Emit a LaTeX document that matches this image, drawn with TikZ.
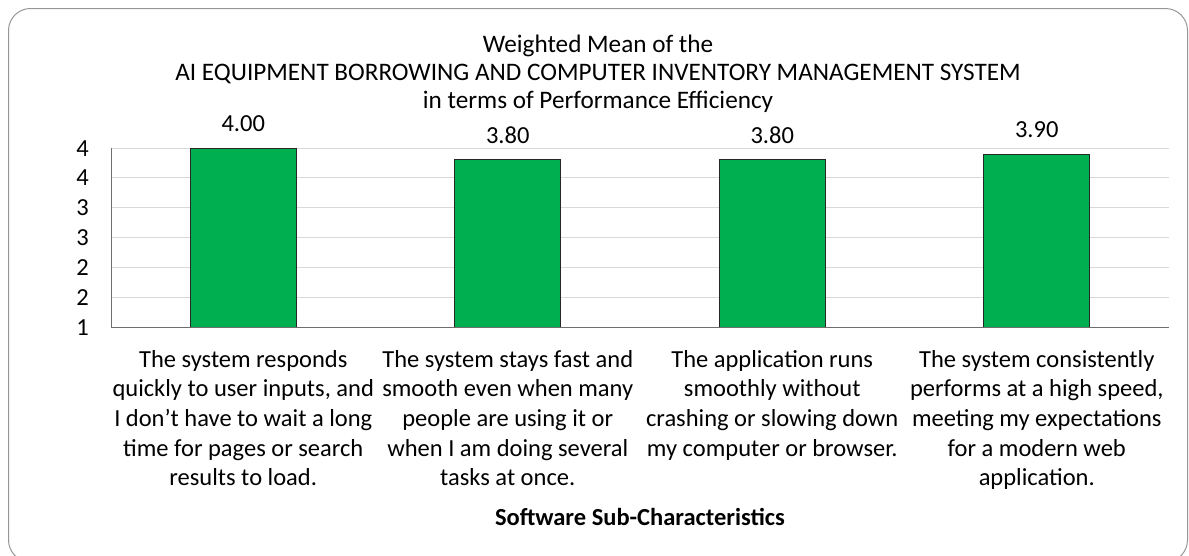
\documentclass[tikz,border=0pt]{standalone}
\usepackage{fontspec}
\setmainfont{Carlito}
\definecolor{barg}{RGB}{0,176,80}
\definecolor{gridc}{RGB}{217,217,217}
\definecolor{axisc}{RGB}{110,110,110}
\definecolor{framec}{RGB}{150,150,150}
\begin{document}
\begin{tikzpicture}[x=1pt,y=-1pt,
  txt/.style={inner sep=0pt,font=\fontsize{24.5}{29.6}\selectfont},
  barbox/.style={draw=black!85,line width=1pt,fill=barg},
  gridline/.style={draw=gridc,line width=1pt},
  axisline/.style={draw=axisc,line width=1pt},
  cat/.style={txt,align=center,anchor=north},
  val/.style={txt,anchor=base},
  ticklab/.style={txt,anchor=base east}]
\useasboundingbox (0,0) rectangle (1189,555);
\begin{scope}
\clip (0,0) rectangle (1189,555);
\draw[draw=framec,line width=1pt,rounded corners=22pt] (8.5,8.5) rectangle (1187.5,562);
\end{scope}
% title
\node[txt,align=center,anchor=north,font=\fontsize{25.2}{28.3}\selectfont] (title) at (598,31.5)
  {\rule{0pt}{20.3pt}Weighted Mean of the\\AI EQUIPMENT BORROWING AND COMPUTER INVENTORY MANAGEMENT SYSTEM\\in terms of Performance Efficiency};
% gridlines
\foreach \k in {0,...,5}
  \draw[gridline] (111,{148+\k*29.833}) -- (1169,{148+\k*29.833});
% bars
\draw[barbox] (190.25,327) rectangle (296.25,148);
\draw[barbox] (454.75,327) rectangle (560.75,159.9);
\draw[barbox] (719.25,327) rectangle (825.25,159.9);
\draw[barbox] (983.75,327) rectangle (1089.75,154.0);
% axes
\draw[axisline] (111,148) -- (111,327) -- (1169,327);
% tick labels
\node[ticklab] (t1) at (89,156) {4};
\node[ticklab] (t2) at (89,185.8) {4};
\node[ticklab] (t3) at (89,215.7) {3};
\node[ticklab] (t4) at (89,245.5) {3};
\node[ticklab] (t5) at (89,275.3) {2};
\node[ticklab] (t6) at (89,305.2) {2};
\node[ticklab] (t7) at (89,335) {1};
% value labels
\node[val] (v1) at (243.25,131.5) {4.00};
\node[val] (v2) at (507.75,143.4) {3.80};
\node[val] (v3) at (772.25,143.4) {3.80};
\node[val] (v4) at (1036.75,137.5) {3.90};
% category labels
\node[cat] (c1) at (243.25,346) {\rule{0pt}{21pt}The system responds\\quickly to user inputs, and\\I don’t have to wait a long\\time for pages or search\\results to load.};
\node[cat] (c2) at (507.75,346) {\rule{0pt}{21pt}The system stays fast and\\smooth even when many\\people are using it or\\when I am doing several\\tasks at once.};
\node[cat] (c3) at (772.25,346) {\rule{0pt}{21pt}The application runs\\smoothly without\\crashing or slowing down\\my computer or browser.};
\node[cat] (c4) at (1036.75,346) {\rule{0pt}{21pt}The system consistently\\performs at a high speed,\\meeting my expectations\\for a modern web\\application.};
% axis title
\node[txt,font=\fontsize{24.5}{29.6}\selectfont\bfseries,anchor=base] (xt) at (640,525) {Software Sub-Characteristics};
\end{tikzpicture}
\end{document}
